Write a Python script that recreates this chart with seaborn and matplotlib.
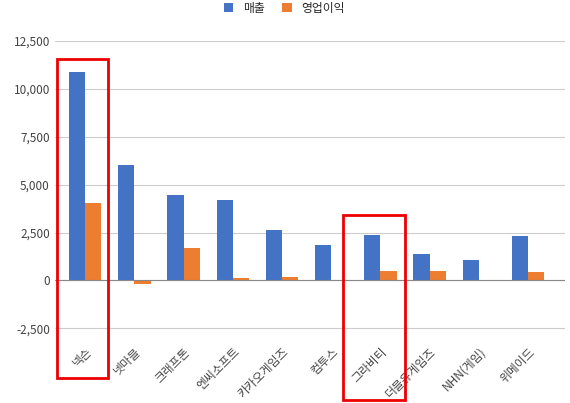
import matplotlib
matplotlib.use("Agg")
import matplotlib.pyplot as plt
import seaborn as sns
import pandas as pd
from matplotlib.patches import Rectangle
from matplotlib.ticker import FuncFormatter

companies = ["넥슨", "넷마블", "크래프톤", "엔씨소프트", "카카오게임즈", "컴투스", "그라비티", "더블유게임즈", "NHN(게임)", "위메이드"]
sales = [10900, 6020, 4450, 4200, 2650, 1850, 2380, 1380, 1080, 2320]
profit = [4050, -200, 1700, 130, 180, 0, 500, 500, 0, 430]
series = ["매출", "영업이익"]

df = pd.DataFrame({
    "company": companies * 2,
    "series": [series[0]] * len(companies) + [series[1]] * len(companies),
    "value": sales + profit,
})

sns.set_theme(style="white")
plt.rcParams['font.family'] = ['Noto Sans CJK KR', 'DejaVu Sans']

fig = plt.figure(figsize=(5.7, 4.03), dpi=100)
ax = fig.add_axes([0.096, 0.171, 0.895, 0.727])
sns.barplot(data=df, x="company", y="value", hue="series", palette=["#4472C4", "#ED7D31"],
            width=0.66, saturation=1, linewidth=0, ax=ax, legend=True)
ax.set_ylim(-2800, 12500)
ax.set_xlim(-0.62, 9.75)
ax.set_yticks([-2500, 0, 2500, 5000, 7500, 10000, 12500])
ax.yaxis.set_major_formatter(FuncFormatter(lambda v, p: f"{int(v):,}"))
ax.grid(axis="y", color="#cccccc", linewidth=0.8)
ax.axhline(0, color="#888888", linewidth=0.8)
ax.set_axisbelow(True)
for s in ax.spines.values():
    s.set_visible(False)
ax.set_xlabel("")
ax.set_ylabel("")
ax.tick_params(axis="both", length=0, labelsize=8.5, colors="#444444")
plt.setp(ax.get_xticklabels(), rotation=45, ha="right", rotation_mode="anchor")
ax.tick_params(axis="x", pad=8)
ax.legend(loc="upper center", bbox_to_anchor=(0.45, 1.135), ncol=2, frameon=False,
          fontsize=8.5, handlelength=0.8, handleheight=0.8, columnspacing=1.5,
          borderaxespad=0, borderpad=0)

for (x0, y0, x1, y1) in [(57, 59, 108, 378), (343, 215, 405, 400)]:
    fig.patches.append(Rectangle((x0 / 570, 1 - y1 / 403), (x1 - x0) / 570, (y1 - y0) / 403,
                                 transform=fig.transFigure, fill=False, edgecolor="#ee0000", linewidth=2))

fig.savefig("out.png", dpi=100)
